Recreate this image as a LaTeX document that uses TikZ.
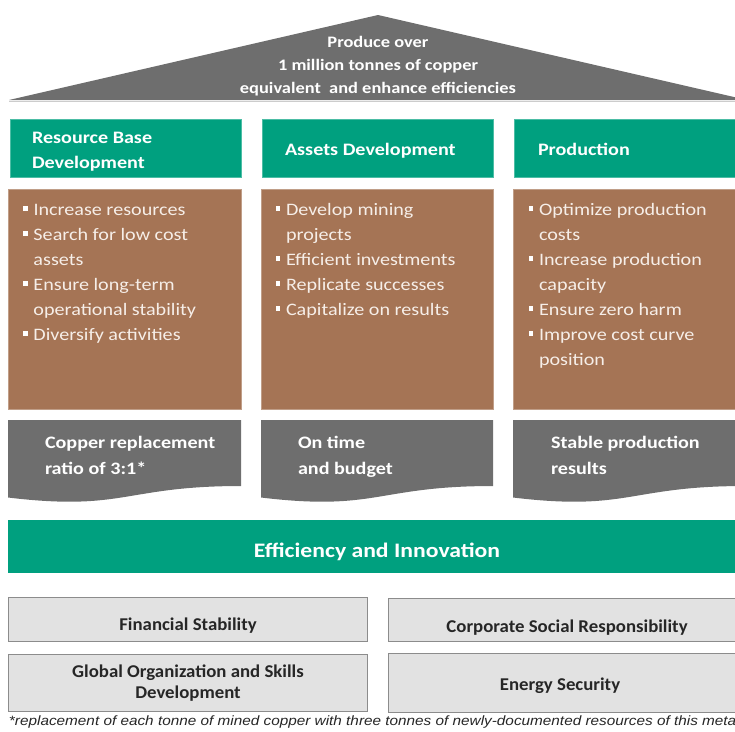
\documentclass[tikz,border=0pt]{standalone}
\usepackage{fontspec}
\setmainfont{Carlito}[FakeStretch=1.15]
\newfontfamily\pillarfont{Carlito}[FakeStretch=1.045]
\newfontfamily\notefont{Liberation Sans}[FakeStretch=1.135]
\definecolor{roofgrey}{RGB}{110,110,110}
\definecolor{kgreen}{RGB}{0,160,127}
\definecolor{kbrown}{RGB}{165,116,85}
\definecolor{kgrey}{RGB}{110,110,110}
\definecolor{pillar}{RGB}{226,226,226}
\definecolor{pillarline}{RGB}{140,140,140}
\definecolor{bullettext}{RGB}{246,238,232}
\newcommand{\sq}{\makebox[10.5pt][l]{\textcolor{white}{\rule[3.8pt]{4.8pt}{4.8pt}}}}
\newcommand{\cont}{\hspace*{10.5pt}}
\begin{document}
\begin{tikzpicture}[x=1pt,y=-1pt,
  every node/.style={inner sep=0pt, outer sep=0pt},
  % multi-line nodes are placed by the baseline of their last line
  rooftext/.style={text=white, font=\bfseries\fontsize{16}{23}\selectfont, align=center, anchor=base},
  headtext/.style={text=white, font=\bfseries\fontsize{17.5}{25}\selectfont, align=left, anchor=base west},
  itemtext/.style={text=bullettext, font=\fontsize{17.5}{25}\selectfont, align=left, anchor=base west},
  goaltext/.style={text=white, font=\bfseries\fontsize{17.5}{26}\selectfont, align=left, anchor=base west},
  basetext/.style={text=black!85, font=\pillarfont\bfseries\fontsize{18}{21}\selectfont, align=center, anchor=base},
  greenbox/.style={fill=kgreen, draw=kgreen!70!white, line width=0.6pt},
  brownbox/.style={fill=kbrown, draw=kbrown!70!white, line width=0.6pt},
  pillarbox/.style={fill=pillar, draw=pillarline, line width=1pt}]
\useasboundingbox (0,0) rectangle (735,731);
\clip (0,0) rectangle (735,731);

% roof
\fill[roofgrey] (9,100) -- (378,15) -- (747,100) -- cycle;
\draw[black!20, line width=1pt] (9,101) -- (735,101);
\node[rooftext] (roof) at (378,93) {Produce over\\1 million tonnes of copper\\equivalent\ \ and enhance efficiencies};

% column headers
\draw[greenbox] (10,119) rectangle (241,177);
\draw[greenbox] (262,119) rectangle (493,177);
\draw[greenbox] (514,119) rectangle (740,177);
\node[headtext] (h1) at (32,168) {Resource Base\\Development};
\node[headtext] (h2) at (285,155) {Assets Development};
\node[headtext] (h3) at (538,155) {Production};

% column contents
\draw[brownbox] (8,189) rectangle (241,409);
\draw[brownbox] (261,189) rectangle (493,409);
\draw[brownbox] (513,189) rectangle (740,409);
\node[itemtext] (c1) at (23,340) {\sq Increase resources\\\sq Search for low cost\\\cont assets\\\sq Ensure long-term\\\cont operational stability\\\sq Diversify activities};
\node[itemtext] (c2) at (275.5,315) {\sq Develop mining\\\cont projects\\\sq Efficient investments\\\sq Replicate successes\\\sq Capitalize on results};
\node[itemtext] (c3) at (528.5,365) {\sq Optimize production\\\cont costs\\\sq Increase production\\\cont capacity\\\sq Ensure zero harm\\\sq Improve cost curve\\\cont position};

% goals (document shapes)
\foreach \xa/\xb in {8/241, 261/493, 513/745} {
  \fill[kgrey] (\xa,420) -- (\xb,420) -- (\xb,486)
    .. controls ({(\xa+\xb)/2},486) and ({(\xa+\xb)/2},511.5) .. (\xa,497.5) -- cycle;
}
\node[goaltext] (g1) at (45,474) {Copper replacement\\ratio of 3:1*};
\node[goaltext] (g2) at (298,474) {On time\\and budget};
\node[goaltext] (g3) at (551,474) {Stable production\\results};

% foundation
\fill[kgreen] (8,520) rectangle (740,573);
\node[text=white, font=\bfseries\fontsize{20.6}{24}\selectfont, anchor=base] (eff) at (377,557.5) {Efficiency and Innovation};

\draw[pillarbox] (8.5,597.5) rectangle (367.5,641);
\draw[pillarbox] (388,598) rectangle (740,641.5);
\draw[pillarbox] (8.5,654) rectangle (367.5,711.5);
\draw[pillarbox] (388,653.5) rectangle (740,712);
\node[basetext] (p1) at (188,630) {Financial Stability};
\node[basetext] (p2) at (567,632) {Corporate Social Responsibility};
\node[basetext] (p3) at (188,698) {Global Organization and Skills\\Development};
\node[basetext] (p4) at (560,690) {Energy Security};

% footnote
\node[anchor=base west, text=black!85, font=\notefont\itshape\fontsize{13.5}{16}\selectfont] (note) at (9,725.5)
  {*replacement of each tonne of mined copper with three tonnes of newly-documented resources of this meta};
\end{tikzpicture}
\end{document}
